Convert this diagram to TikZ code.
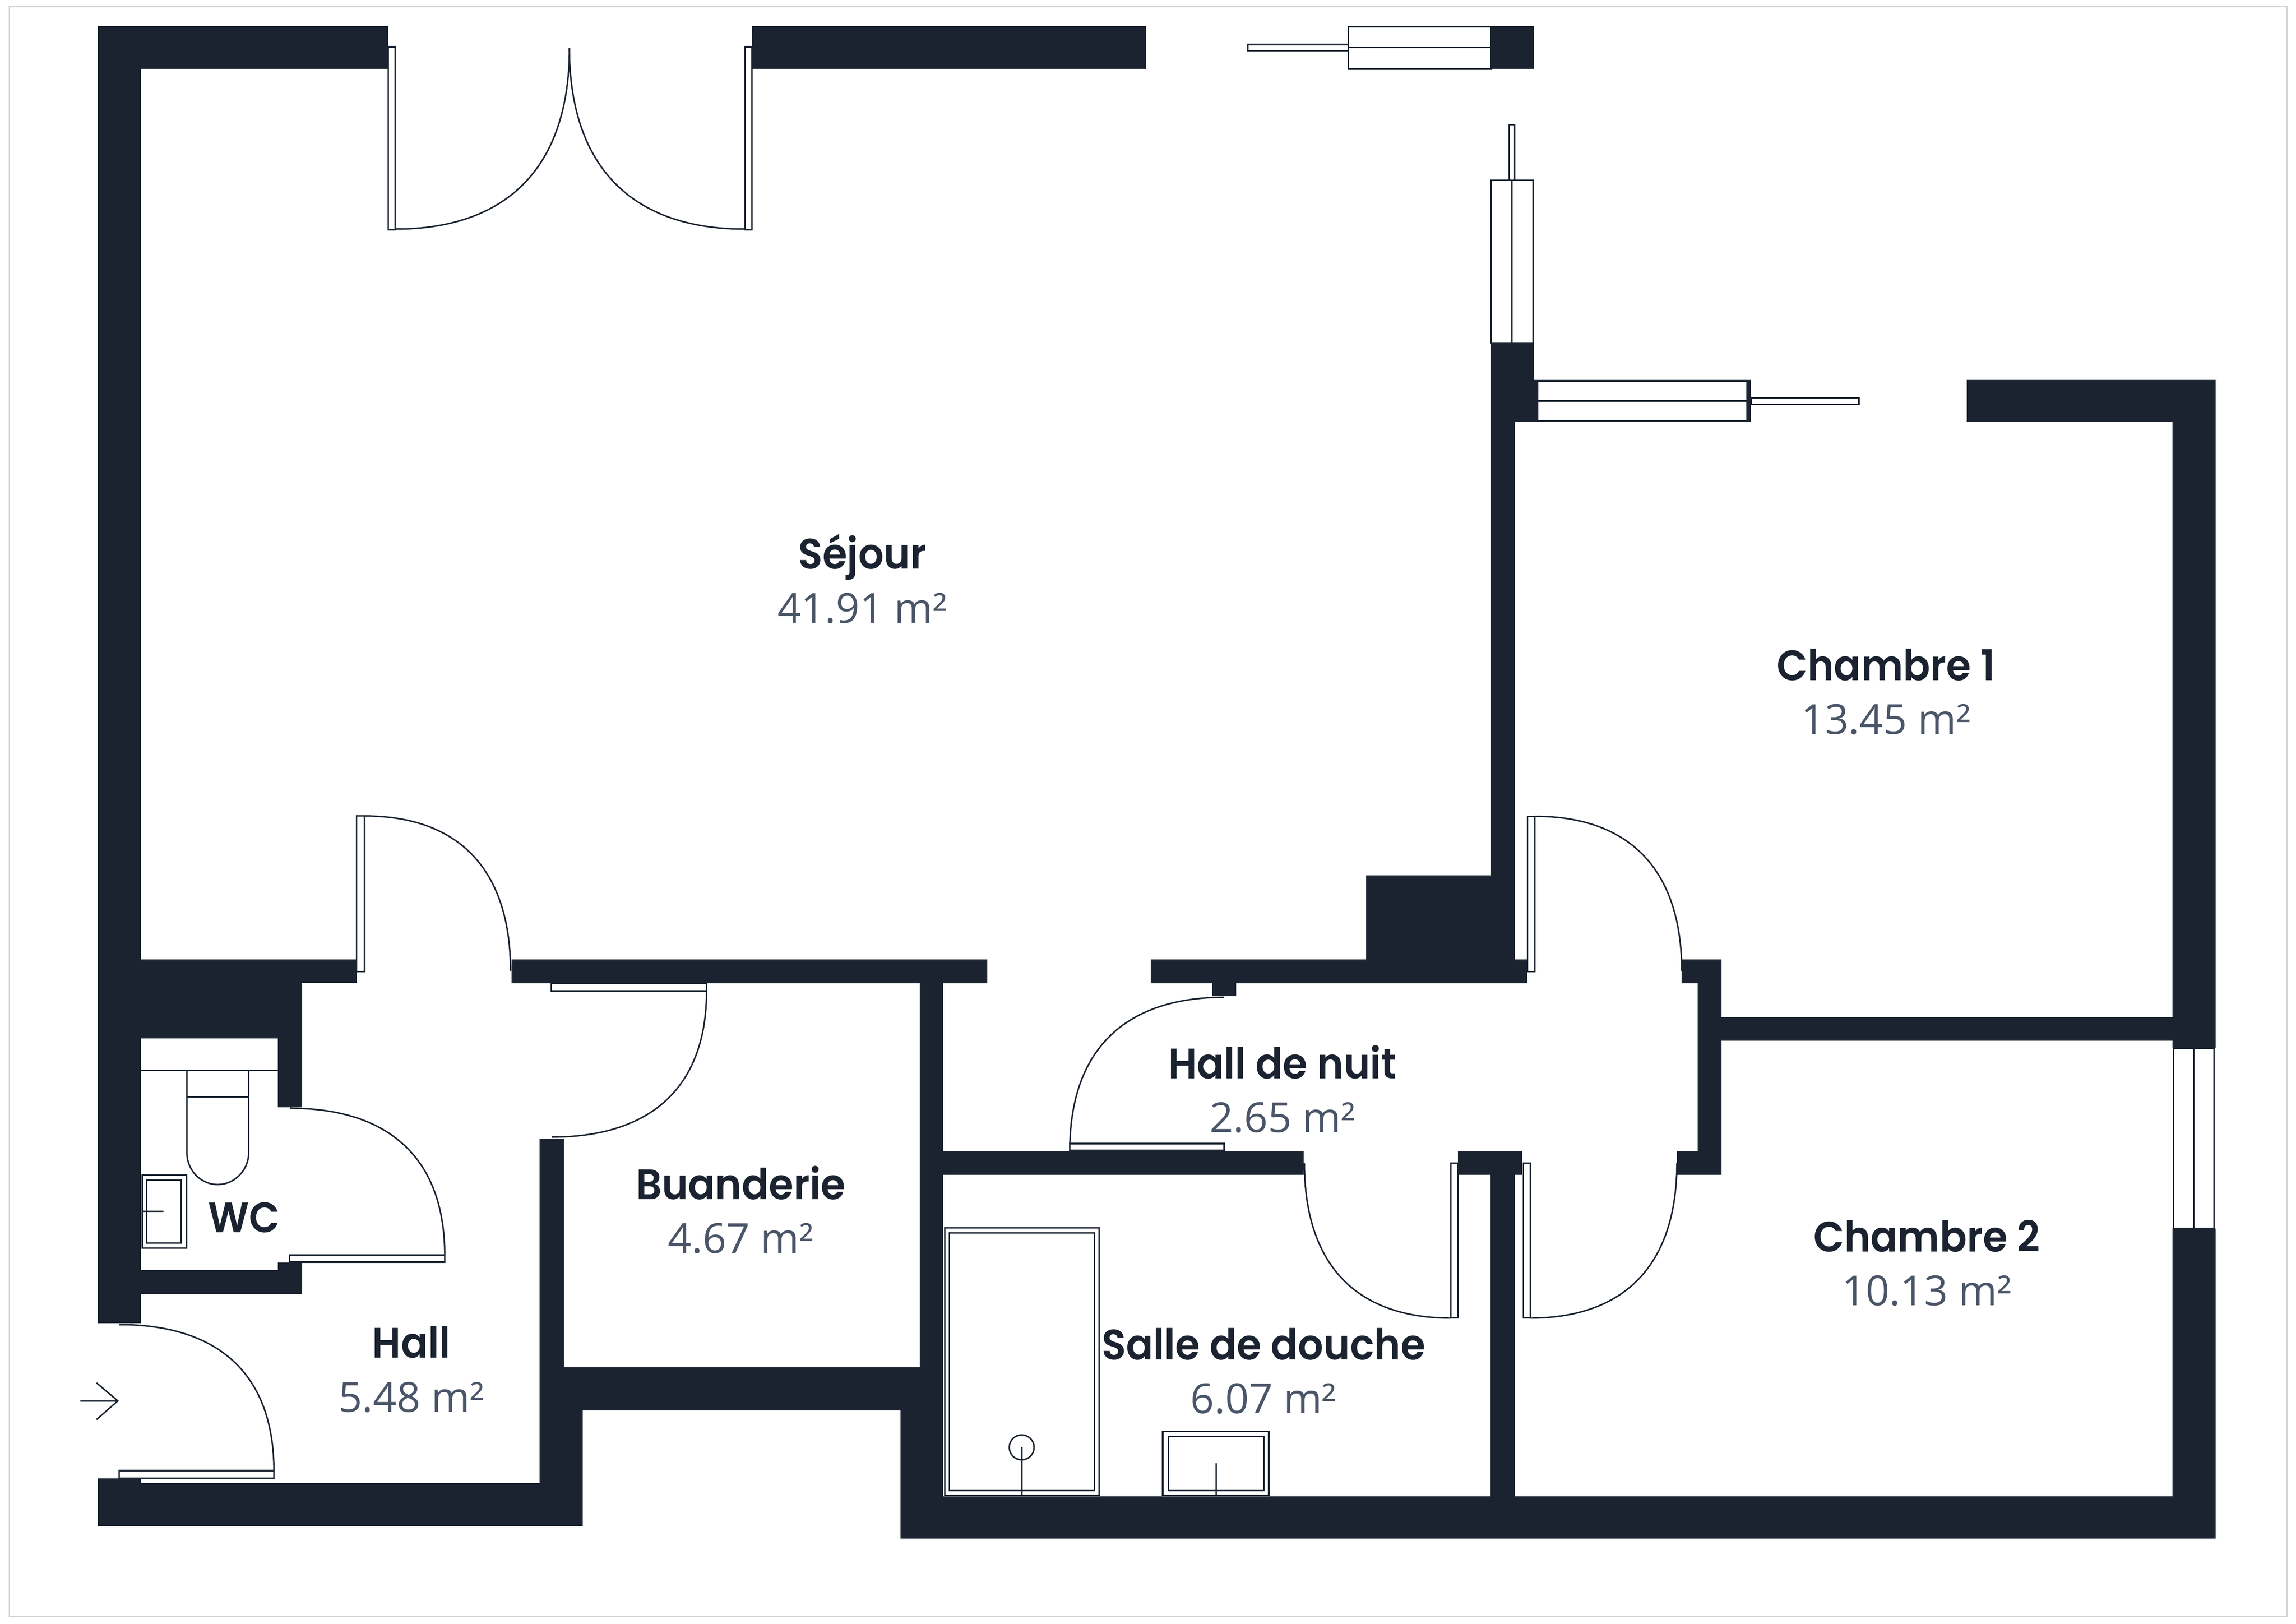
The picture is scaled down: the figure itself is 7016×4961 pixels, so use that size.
\documentclass[tikz,border=0pt]{standalone}
\usepackage{fontspec}
\newfontfamily\namefont{Poppins}[UprightFont={* SemiBold},FakeStretch=0.94]
\newfontfamily\areafont{Open Sans}
\definecolor{wallcol}{HTML}{1A232F}
\definecolor{areacol}{HTML}{4A5568}
\definecolor{framecol}{HTML}{D6D6D6}
\tikzset{
    wallfill/.style={fill=wallcol},
    thinline/.style={draw=wallcol,line width=0.045cm},
    leaf/.style={draw=wallcol,fill=white,line width=0.045cm},
    roomname/.style={text=wallcol,anchor=base,inner sep=0pt,font=\namefont\fontsize{37}{40}\selectfont},
    roomarea/.style={text=areacol,anchor=base,inner sep=0pt,font=\areafont\fontsize{36}{40}\selectfont} }

\begin{document}
\begin{tikzpicture}[x=0.01cm,y=-0.01cm]
  \useasboundingbox (0,0) rectangle (7016,4961);
  \draw [framecol,line width=0.04cm] (28,20) rectangle (6988,4939);

% walls
  \fill [wallfill] (299,80) rectangle (1186,211);  \fill [wallfill] (299,80) rectangle (431,4043);
  \fill [wallfill] (2298,80) rectangle (3503,211); \fill [wallfill] (4556,80) rectangle (4686,210);
  \fill [wallfill] (4556,1047) rectangle (4686,1290); \fill [wallfill] (4686,1159) rectangle (5351,1290);
  \fill [wallfill] (4556,1290) rectangle (4629,2931); \fill [wallfill] (4174,2675) rectangle (4629,2931);
  \fill [wallfill] (3517,2931) rectangle (4667,3004); \fill [wallfill] (3704,3004) rectangle (3778,3044);
  \fill [wallfill] (6010,1159) rectangle (6770,1290); \fill [wallfill] (6638,1159) rectangle (6770,3202);
  \fill [wallfill] (6638,3753) rectangle (6770,4700); \fill [wallfill] (2752,4571) rectangle (6770,4700);
  \fill [wallfill] (2752,4307) rectangle (2882,4571); \fill [wallfill] (2810,3004) rectangle (2882,4571);
  \fill [wallfill] (1723,4177) rectangle (2882,4309); \fill [wallfill] (1649,3478) rectangle (1723,4663);
  \fill [wallfill] (1649,4309) rectangle (1780,4663); \fill [wallfill] (299,4531) rectangle (1780,4663);
  \fill [wallfill] (299,4517) rectangle (431,4531);
  \fill [wallfill] (431,2931) rectangle (1090,3003); \fill [wallfill] (431,3003) rectangle (923,3173);
  \fill [wallfill] (849,3173) rectangle (923,3383);  \fill [wallfill] (431,3880) rectangle (923,3954);
  \fill [wallfill] (849,3857) rectangle (923,3954);  \fill [wallfill] (1563,2931) rectangle (3017,3004);
  \fill [wallfill] (2882,3518) rectangle (3983,3590); \fill [wallfill] (4455,3518) rectangle (4652,3590);
  \fill [wallfill] (4555,3590) rectangle (4629,4571); \fill [wallfill] (5139,2931) rectangle (5261,3004);
  \fill [wallfill] (5188,2931) rectangle (5261,3590); \fill [wallfill] (5125,3518) rectangle (5261,3590);
  \fill [wallfill] (5261,3108) rectangle (6638,3180);

% windows
  \draw [leaf] (4121,82) rectangle (4556,210); \draw [thinline] (4121,145) -- (4556,145);
  \draw [leaf] (3813,136) rectangle (4121,155);
  \draw [leaf] (4556,551) rectangle (4685,1047); \draw [thinline] (4620,551) -- (4620,1047);
  \draw [leaf] (4612,381) rectangle (4628,551);
  \draw [leaf] (4698,1165) rectangle (5338,1286); \draw [thinline] (4698,1225) -- (5338,1225);
  \draw [leaf] (5351,1216) rectangle (5680,1235);
  \draw [leaf] (6642,3202) rectangle (6766,3753); \draw [thinline] (6704,3202) -- (6704,3753);

% doors
  \draw [leaf] (1186,143) rectangle (1208,702); \draw [leaf] (2276,143) rectangle (2298,702);
  \draw [thinline] (1208,700) .. controls (1554,700) and (1740,506) .. (1740,147);
  \draw [thinline] (2276,700) .. controls (1928,700) and (1740,506) .. (1740,147);
  \draw [leaf] (1090,2493) rectangle (1114,2968);
  \draw [thinline] (1114,2493) .. controls (1404,2493) and (1560,2659) .. (1560,2966);
  \draw [leaf] (1685,3005) rectangle (2159,3028);
  \draw [thinline] (2159,3028) .. controls (2159,3318) and (1993,3474) .. (1686,3474);
  \draw [leaf] (885,3835) rectangle (1359,3856);
  \draw [thinline] (886,3386) .. controls (1193,3386) and (1359,3543) .. (1359,3835);
  \draw [leaf] (364,4493) rectangle (837,4517);
  \draw [thinline] (365,4047) .. controls (672,4047) and (837,4203) .. (837,4494);
  \draw [leaf] (3269,3494) rectangle (3741,3515);
  \draw [thinline] (3741,3047) .. controls (3434,3047) and (3269,3211) .. (3269,3515);
  \draw [leaf] (4433,3554) rectangle (4455,4027);
  \draw [thinline] (4433,4027) .. controls (4142,4027) and (3986,3861) .. (3986,3554);
  \draw [leaf] (4655,3554) rectangle (4676,4027);
  \draw [thinline] (4676,4027) .. controls (4967,4027) and (5124,3861) .. (5124,3554);
  \draw [leaf] (4668,2494) rectangle (4690,2968);
  \draw [thinline] (4690,2494) .. controls (4982,2494) and (5139,2660) .. (5139,2968);

% wc
  \draw [thinline] (431,3270) -- (849,3270);
  \draw [thinline] (571,3351) -- (760,3351);
  \draw [thinline] (571,3270) -- (571,3521) .. controls (571,3575) and (613,3619) .. (665,3619) .. controls (717,3619) and (760,3575) .. (760,3521) -- (760,3270);
  \draw [thinline] (435,3590) rectangle (570,3813); \draw [thinline] (448,3605) rectangle (553,3798);
  \draw [thinline] (435,3701) -- (500,3701);

% shower and basin
  \draw [thinline] (2887,3751) rectangle (3359,4568); \draw [thinline] (2901,3767) rectangle (3344,4554);
  \draw [thinline] (3122,4422) circle (38); \draw [thinline] (3122,4422) -- (3122,4568);
  \draw [thinline] (3553,4373) rectangle (3877,4568); \draw [thinline] (3570,4389) rectangle (3862,4554);
  \draw [thinline] (3716,4471) -- (3716,4568);

% entry arrow
  \draw [thinline] (245,4280) -- (360,4280); \draw [thinline] (295,4225) -- (360,4280) -- (295,4337);

% labels
  \node [roomname] (sejourname) at (2635,1738) {Séjour};
  \node [roomarea] (sejourarea) at (2635,1903) {41.91 m²};
  \node [roomname] (chambreunname) at (5763,2079) {Chambre 1};
  \node [roomarea] (chambreunarea) at (5763,2243) {13.45 m²};
  \node [roomname] (hallnuitname) at (3919,3296) {Hall de nuit};
  \node [roomarea] (hallnuitarea) at (3919,3460) {2.65 m²};
  \node [roomname] (buanderiename) at (2264,3664) {Buanderie};
  \node [roomarea] (buanderiearea) at (2264,3828) {4.67 m²};
  \node [roomname] (wcname) at (746,3765) {WC};
  \node [roomname] (chambredeuxname) at (5888,3824) {Chambre 2};
  \node [roomarea] (chambredeuxarea) at (5888,3988) {10.13 m²};
  \node [roomname] (sallename) at (3861,4154) {Salle de douche};
  \node [roomarea] (sallearea) at (3861,4319) {6.07 m²};
  \node [roomname] (hallname) at (1257,4149) {Hall};
  \node [roomarea] (hallarea) at (1257,4314) {5.48 m²};
\end{tikzpicture}
\end{document}
